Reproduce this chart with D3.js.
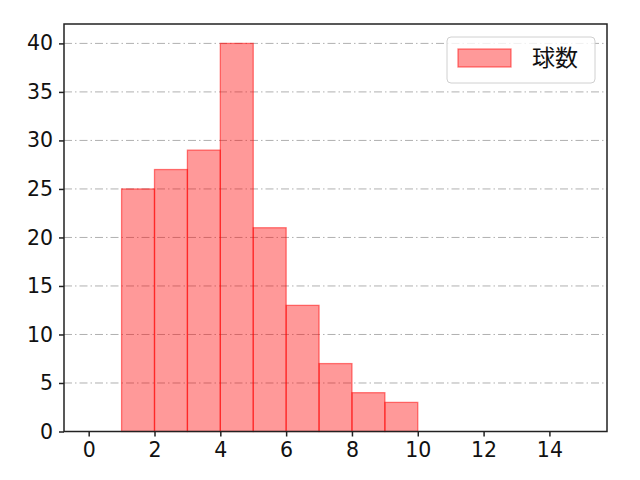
<!DOCTYPE html>
<html><head><meta charset="utf-8">
<script src="https://cdn.jsdelivr.net/npm/d3@7"></script>
<style>body{margin:0;background:#fff}svg{display:block}text{font-family:"Noto Sans CJK JP","DejaVu Sans",sans-serif}</style>
</head><body>
<svg id="c" width="640" height="480"></svg>
<script>
const binStarts = [1,2,3,4,5,6,7,8,9];
const binEnds   = [2,3,4,5,6,7,8,9,10];
const counts    = [25,27,29,40,21,13,7,4,3];
const xTicks = [0,2,4,6,8,10,12,14];
const yTicks = [0,5,10,15,20,25,30,35,40];
const seriesName = "球数";

const svg = d3.select("#c");
const L=64, R=607, T=24, B=431.5;
const x = d3.scaleLinear().domain([-0.75,15.75]).range([L,R]);
const y = d3.scaleLinear().domain([0,42]).range([B,T]);

// grid
svg.append("g").selectAll("line").data(yTicks).join("line")
  .attr("x1",L).attr("x2",R).attr("y1",d=>y(d)).attr("y2",d=>y(d))
  .attr("stroke","#b0b0b0").attr("stroke-width",1).attr("stroke-dasharray","8,3,1.5,3");

// bars
svg.append("g").selectAll("rect").data(counts).join("rect")
  .attr("x",(d,i)=>x(binStarts[i])).attr("width",(d,i)=>x(binEnds[i])-x(binStarts[i]))
  .attr("y",d=>y(d)).attr("height",d=>y(0)-y(d))
  .attr("fill","rgba(255,0,0,0.4)").attr("stroke","rgba(255,0,0,0.5)").attr("stroke-width",1.3);

// axes
const fs = 20.5;
const xa = svg.append("g").attr("transform",`translate(0,${B})`)
  .call(d3.axisBottom(x).tickValues(xTicks).tickSize(5).tickPadding(6).tickFormat(d3.format("d")));
const ya = svg.append("g").attr("transform",`translate(${L},0)`)
  .call(d3.axisLeft(y).tickValues(yTicks).tickSize(5).tickPadding(6).tickFormat(d3.format("d")));
[xa,ya].forEach(a=>{
  a.select(".domain").remove();
  a.selectAll("line").attr("stroke","#222").attr("stroke-width",1.5);
  a.selectAll("text").attr("font-size",fs).attr("fill","#111").style("font-family",'"DejaVu Sans",sans-serif');
});
// frame
svg.append("rect").attr("x",L).attr("y",T).attr("width",R-L).attr("height",B-T)
  .attr("fill","none").attr("stroke","#222").attr("stroke-width",1.5);

// legend
const lg = svg.append("g");
lg.append("rect").attr("x",447).attr("y",37).attr("width",148).attr("height",46).attr("rx",4)
  .attr("fill","rgba(255,255,255,0.8)").attr("stroke","#d0d0d0").attr("stroke-width",1);
lg.append("rect").attr("x",458).attr("y",49).attr("width",53).attr("height",18)
  .attr("fill","rgba(255,0,0,0.4)").attr("stroke","rgba(255,0,0,0.5)").attr("stroke-width",1.3);
lg.append("text").attr("x",532).attr("y",66).attr("font-size",23).attr("fill","#111").text(seriesName);
</script>
</body></html>
